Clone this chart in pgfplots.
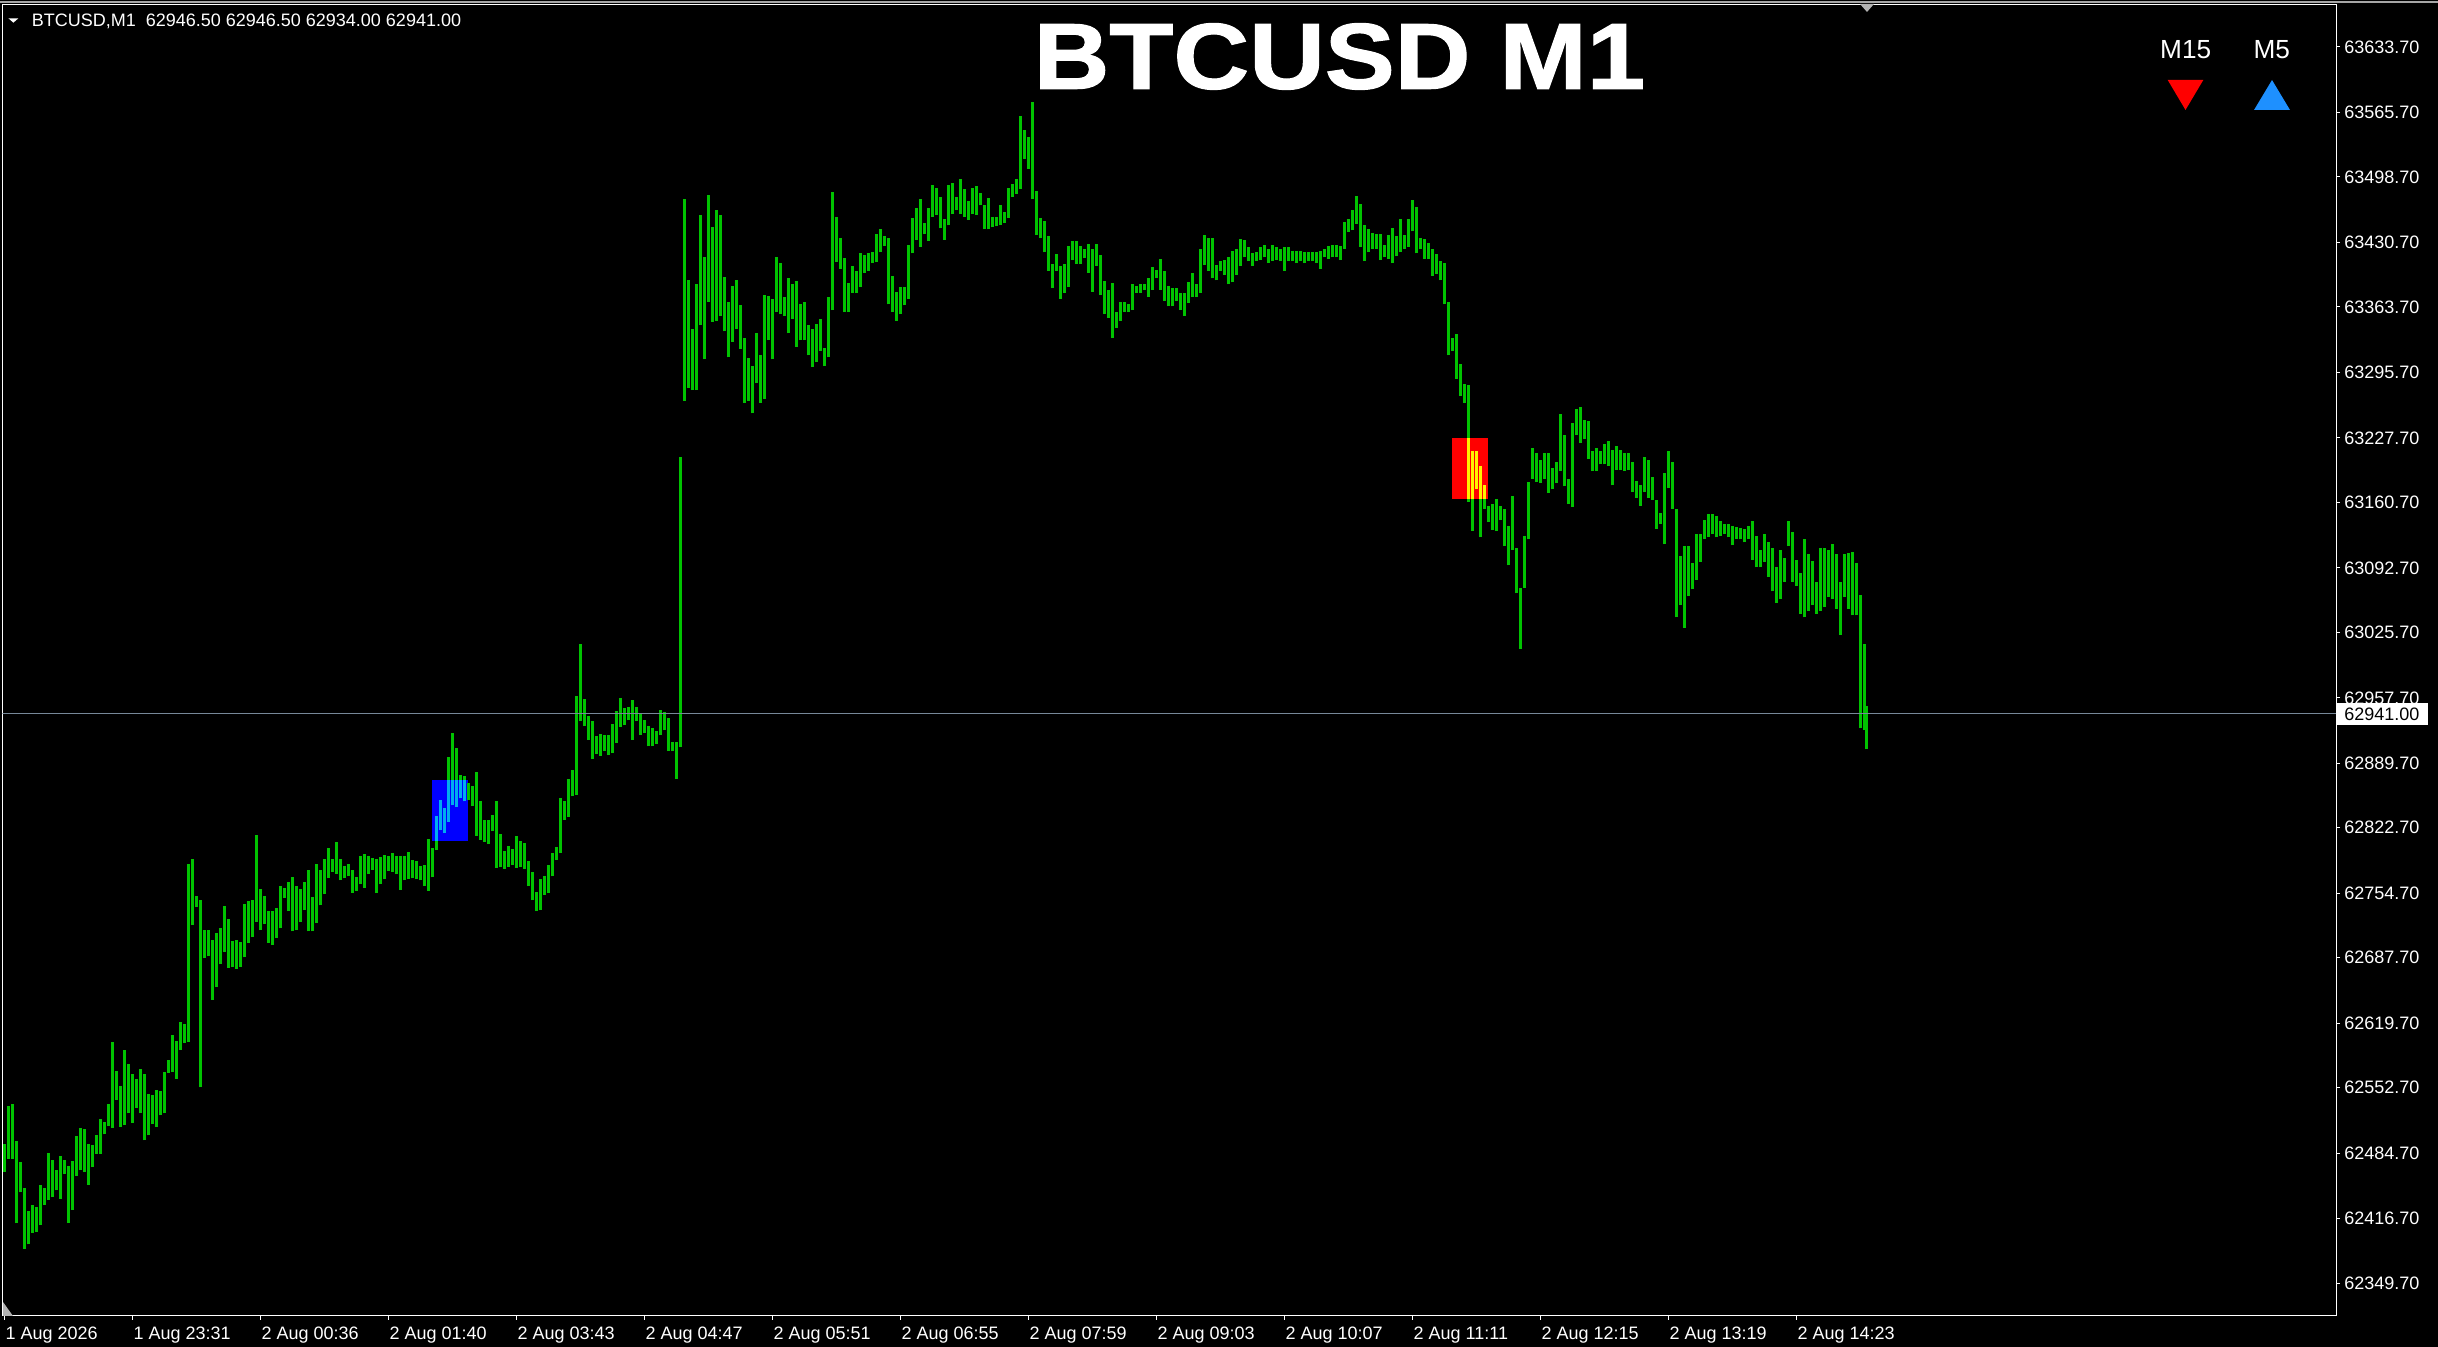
\documentclass[border=0pt]{standalone}
\usepackage{fontspec}
\setmainfont{Liberation Sans}
\newfontface\titlefont[FakeBold=1.2]{Liberation Sans Bold}
\usepackage{pgfplots}
\pgfplotsset{compat=1.18}
\usepackage{pgfplotstable}
\definecolor{barg}{RGB}{0,195,0}
\definecolor{pline}{RGB}{119,136,153}
\definecolor{mtblue}{RGB}{30,144,255}
\pgfplotstableread{
m lo hi
0 62465 62494
2 62479 62534
4 62479 62536
6 62412 62497
8 62444 62475
10 62385 62448
12 62390 62425
14 62402 62431
16 62403 62429
18 62410 62452
20 62431 62448
22 62436 62485
24 62439 62477
26 62446 62467
28 62437 62482
30 62463 62477
32 62412 62471
34 62426 62476
36 62461 62502
38 62467 62511
40 62465 62510
42 62452 62494
44 62470 62493
46 62484 62503
48 62484 62520
50 62504 62517
52 62513 62536
54 62511 62600
56 62540 62570
58 62512 62554
60 62514 62592
62 62526 62577
64 62516 62567
66 62532 62562
68 62526 62572
70 62498 62567
72 62503 62546
74 62515 62545
76 62512 62550
78 62524 62549
80 62526 62569
82 62568 62581
84 62569 62607
86 62562 62601
88 62592 62621
90 62599 62619
92 62600 62785
94 62722 62790
96 62740 62752
98 62553 62748
100 62687 62716
102 62689 62716
104 62644 62706
106 62657 62713
108 62681 62718
110 62694 62741
112 62677 62728
114 62678 62705
116 62676 62706
118 62678 62704
120 62688 62743
122 62703 62746
124 62709 62747
126 62725 62815
128 62716 62759
130 62723 62752
132 62703 62736
134 62701 62736
136 62708 62739
138 62718 62762
140 62750 62760
142 62736 62766
144 62715 62771
146 62716 62762
148 62725 62759
150 62737 62766
152 62715 62779
154 62715 62751
156 62724 62785
158 62742 62779
160 62754 62790
162 62770 62801
164 62777 62790
166 62775 62808
168 62768 62790
170 62770 62783
172 62772 62785
174 62755 62779
176 62757 62771
178 62764 62793
180 62760 62795
182 62775 62793
184 62779 62791
186 62755 62790
188 62764 62792
190 62769 62794
192 62778 62793
194 62777 62796
196 62774 62793
198 62758 62793
200 62768 62793
202 62769 62797
204 62770 62789
206 62769 62788
208 62768 62783
210 62762 62784
212 62757 62811
214 62771 62801
216 62799 62835
218 62820 62851
220 62817 62843
222 62829 62896
224 62846 62921
226 62844 62905
228 62853 62877
230 62850 62876
232 62851 62869
234 62845 62866
236 62814 62880
238 62810 62850
240 62808 62831
242 62806 62831
244 62819 62836
246 62781 62850
248 62782 62816
250 62780 62798
252 62782 62804
254 62784 62800
256 62781 62814
258 62782 62809
260 62780 62807
262 62762 62788
264 62747 62777
266 62736 62756
268 62737 62769
270 62753 62772
272 62755 62784
274 62772 62796
276 62789 62803
278 62796 62853
280 62831 62850
282 62834 62873
284 62855 62882
286 62857 62959
288 62933 63013
290 62928 62956
292 62914 62939
294 62894 62933
296 62899 62918
298 62897 62920
300 62902 62919
302 62898 62919
304 62900 62930
306 62911 62944
308 62927 62957
310 62929 62947
312 62934 62948
314 62914 62955
316 62933 62948
318 62919 62941
320 62921 62934
322 62907 62928
324 62907 62926
326 62910 62923
328 62919 62945
330 62924 62943
332 62902 62937
334 62902 62912
336 62873 62912
338 62906 63208
340 63266 63475
342 63279 63391
344 63277 63340
346 63277 63387
348 63345 63459
350 63309 63415
352 63369 63480
354 63348 63446
356 63349 63464
358 63354 63459
360 63338 63394
362 63311 63369
364 63327 63385
366 63340 63391
368 63320 63365
370 63264 63331
372 63266 63310
374 63253 63302
376 63284 63336
378 63264 63313
380 63268 63376
382 63329 63375
384 63309 63372
386 63358 63415
388 63356 63409
390 63354 63374
392 63336 63393
394 63351 63387
396 63322 63390
398 63329 63366
400 63329 63369
402 63313 63345
404 63301 63340
406 63306 63346
408 63318 63351
410 63302 63321
412 63311 63374
414 63360 63483
416 63410 63457
418 63403 63435
420 63358 63414
422 63358 63388
424 63378 63406
426 63378 63401
428 63384 63419
430 63399 63417
432 63401 63419
434 63409 63420
436 63410 63439
438 63420 63444
440 63427 63437
442 63366 63435
444 63358 63396
446 63349 63379
448 63356 63384
450 63365 63384
452 63372 63428
454 63419 63456
456 63433 63466
458 63426 63475
460 63439 63451
462 63432 63466
464 63457 63490
466 63459 63487
468 63445 63478
470 63433 63455
472 63448 63490
474 63460 63492
476 63464 63478
478 63460 63496
480 63457 63486
482 63454 63473
484 63460 63487
486 63459 63489
488 63469 63482
490 63444 63469
492 63444 63477
494 63446 63457
496 63447 63457
498 63448 63469
500 63451 63462
502 63456 63487
504 63478 63491
506 63481 63496
508 63486 63562
510 63517 63547
512 63507 63540
514 63475 63576
516 63438 63484
518 63435 63456
520 63420 63453
522 63401 63437
524 63383 63408
526 63401 63418
528 63372 63406
530 63378 63408
532 63384 63427
534 63412 63432
536 63408 63432
538 63408 63427
540 63414 63424
542 63399 63429
544 63379 63424
546 63406 63429
548 63376 63417
550 63356 63390
552 63352 63381
554 63331 63388
556 63342 63358
558 63349 63369
560 63358 63369
562 63358 63366
564 63360 63387
566 63378 63385
568 63378 63387
570 63381 63387
572 63374 63393
574 63381 63405
576 63393 63402
578 63381 63413
580 63370 63401
582 63364 63385
584 63364 63383
586 63370 63383
588 63360 63378
590 63354 63378
592 63368 63389
594 63374 63399
596 63374 63387
598 63378 63424
600 63407 63438
602 63401 63435
604 63393 63435
606 63391 63407
608 63401 63411
610 63397 63412
612 63387 63415
614 63389 63422
616 63397 63424
618 63406 63434
620 63415 63433
622 63411 63426
624 63406 63419
626 63411 63420
628 63412 63426
630 63415 63428
632 63409 63424
634 63411 63428
636 63412 63426
638 63411 63424
640 63401 63426
642 63411 63426
644 63411 63422
646 63409 63422
648 63411 63422
650 63409 63420
652 63411 63420
654 63411 63420
656 63409 63420
658 63403 63422
660 63415 63424
662 63413 63427
664 63415 63428
666 63415 63428
668 63412 63427
670 63424 63452
672 63441 63455
674 63443 63464
676 63450 63479
678 63426 63470
680 63411 63448
682 63420 63444
684 63424 63440
686 63424 63439
688 63412 63439
690 63415 63428
692 63413 63438
694 63409 63445
696 63416 63437
698 63420 63455
700 63424 63438
702 63426 63455
704 63442 63474
706 63419 63467
708 63424 63435
710 63413 63434
712 63413 63430
714 63396 63424
716 63398 63418
718 63391 63411
720 63366 63409
722 63313 63369
724 63318 63331
726 63289 63335
728 63271 63304
730 63264 63283
732 63161 63282
734 63131 63214
736 63174 63214
738 63124 63198
740 63154 63179
742 63140 63157
744 63132 63159
746 63131 63164
748 63142 63157
750 63115 63154
752 63095 63136
754 63111 63167
756 63066 63113
758 63008 63072
760 63072 63126
762 63122 63182
764 63185 63217
766 63182 63212
768 63181 63204
770 63185 63212
772 63170 63212
774 63174 63196
776 63181 63202
778 63193 63252
780 63177 63230
782 63159 63185
784 63156 63243
786 63230 63257
788 63222 63259
790 63226 63246
792 63206 63245
794 63193 63214
796 63193 63217
798 63200 63214
800 63200 63221
802 63198 63224
804 63178 63215
806 63194 63219
808 63194 63215
810 63193 63212
812 63194 63212
814 63171 63202
816 63165 63183
818 63157 63179
820 63171 63208
822 63165 63204
824 63163 63187
826 63133 63163
828 63138 63149
830 63117 63191
832 63175 63214
834 63154 63202
836 63041 63154
838 63054 63105
840 63030 63115
842 63063 63115
844 63070 63097
846 63080 63128
848 63099 63128
850 63122 63142
852 63124 63148
854 63128 63148
856 63124 63146
858 63126 63141
860 63128 63138
862 63124 63138
864 63116 63136
866 63122 63135
868 63122 63134
870 63119 63133
872 63122 63136
874 63101 63141
876 63093 63126
878 63093 63111
880 63099 63128
882 63083 63119
884 63068 63113
886 63056 63093
888 63060 63111
890 63078 63103
892 63115 63141
894 63078 63130
896 63074 63101
898 63045 63087
900 63041 63122
902 63048 63107
904 63054 63100
906 63045 63078
908 63048 63113
910 63052 63113
912 63062 63111
914 63060 63117
916 63050 63107
918 63023 63078
920 63062 63107
922 63050 63108
924 63043 63109
926 63043 63097
928 62926 63064
930 62924 63013
931 62904 62949
}\bars
% the parts of the bars that lie inside the two signal boxes
\pgfplotstableread{
m lo hi
216 62808.8 62835
218 62820 62851
220 62817 62843
222 62829 62872.2
224 62846 62872.2
226 62844 62872.2
228 62853 62872.2
230 62850 62872.2
}\bluebars
\pgfplotstableread{
m lo hi
732 63164 63227.6
734 63164 63214
736 63174 63214
738 63164 63198
740 63164 63179
}\redbars
\pgfplotsset{
  hlbars/.style={draw=none, mark=none, forget plot,
    error bars/.cd, y dir=plus, y explicit, error mark=none,
    error bar style={draw=#1, line width=1.25pt}},
}
\begin{document}
\begin{tikzpicture}
\useasboundingbox (0,0) rectangle (1219pt,673.5pt);
\fill[black] (0,0) rectangle (1219pt,673.5pt);
\begin{axis}[
  at={(1.25pt,15.5pt)}, anchor=south west,
  scale only axis, width=1166.75pt, height=655.5pt,
  xmin=-1.05, xmax=1165.7, ymin=62315.5, ymax=63677.0,
  axis background/.style={fill=black},
  axis line style={white, line width=0.5pt},
  tick align=outside, major tick length=2pt,
  tick style={white, line width=0.5pt},
  xtick pos=left, ytick pos=right, yticklabel pos=right,
  xtick={0,64,...,896},
  xticklabels={1 Aug 2026,1 Aug 23:31,2 Aug 00:36,2 Aug 01:40,2 Aug 03:43,2 Aug 04:47,2 Aug 05:51,2 Aug 06:55,2 Aug 07:59,2 Aug 09:03,2 Aug 10:07,2 Aug 11:11,2 Aug 12:15,2 Aug 13:19,2 Aug 14:23},
  ytick={62349.7,62416.7,62484.7,62552.7,62619.7,62687.7,62754.7,62822.7,62889.7,62957.7,63025.7,63092.7,63160.7,63227.7,63295.7,63363.7,63430.7,63498.7,63565.7,63633.7},
  yticklabels={62349.70,62416.70,62484.70,62552.70,62619.70,62687.70,62754.70,62822.70,62889.70,62957.70,63025.70,63092.70,63160.70,63227.70,63295.70,63363.70,63430.70,63498.70,63565.70,63633.70},
  ticklabel style={font=\fontsize{9}{10}\selectfont, text=white},
  xticklabel style={anchor=base west, inner sep=0pt, yshift=-10pt, xshift=0.3pt},
  yticklabel style={anchor=base west, inner sep=0pt, xshift=2pt, yshift=-3.2pt},
]
\addplot[draw=none, fill=blue, forget plot]
  coordinates {(213.7,62808.8) (231.7,62808.8) (231.7,62872.2) (213.7,62872.2)};
\addplot[draw=none, fill=red, forget plot]
  coordinates {(723.7,63164.0) (741.5,63164.0) (741.5,63227.6) (723.7,63227.6)};
\addplot[hlbars=barg]
  table[x=m, y=lo, y error expr=\thisrow{hi}-\thisrow{lo}] {\bars};
\addplot[hlbars=cyan]
  table[x=m, y=lo, y error expr=\thisrow{hi}-\thisrow{lo}] {\bluebars};
\addplot[hlbars=yellow]
  table[x=m, y=lo, y error expr=\thisrow{hi}-\thisrow{lo}] {\redbars};
\addplot[pline, line width=0.5pt, forget plot] coordinates {(-1.05,62941) (1165.7,62941)};
\coordinate (pl) at (axis cs:1165.7,62941);
\end{axis}
\fill[white] ([xshift=0.3pt,yshift=-5.5pt]pl) rectangle ([xshift=46pt,yshift=5.5pt]pl);
\node[anchor=base west, inner sep=0pt, font=\fontsize{9}{10}\selectfont, text=black] at ([xshift=4pt,yshift=-3.2pt]pl) {62941.00};
\draw[gray!70, line width=0.75pt] (0,672.6pt) -- (1219pt,672.6pt);
\node[font=\titlefont\fontsize{46.8}{50}\selectfont, text=white, xscale=1.12, inner sep=0pt] at (669.75pt,645.25pt) {BTCUSD M1};
\fill[white] (4.2pt,664.35pt) -- (9.2pt,664.35pt) -- (6.7pt,662.15pt) -- cycle;
\node[anchor=base west, inner sep=0pt, font=\fontsize{9}{10}\selectfont, text=white] at (15.7pt,660.25pt) {BTCUSD,M1\ \ 62946.50 62946.50 62934.00 62941.00};
\node[font=\fontsize{13.1}{14}\selectfont, text=white, inner sep=0pt] at (1092.85pt,648.5pt) {M15};
\node[font=\fontsize{13.1}{14}\selectfont, text=white, inner sep=0pt] at (1135.85pt,648.5pt) {M5};
\fill[red] (1083.85pt,633.5pt) -- (1101.65pt,633.5pt) -- (1092.75pt,618.5pt) -- cycle;
\fill[mtblue] (1127pt,618.5pt) -- (1145pt,618.5pt) -- (1136pt,633.5pt) -- cycle;
\fill[gray!60] (930pt,671.5pt) -- (937pt,671.5pt) -- (933.5pt,667.5pt) -- cycle;
\fill[gray!60] (1.5pt,22.5pt) -- (1.5pt,15.5pt) -- (6.5pt,15.5pt) -- cycle;
\end{tikzpicture}
\end{document}
